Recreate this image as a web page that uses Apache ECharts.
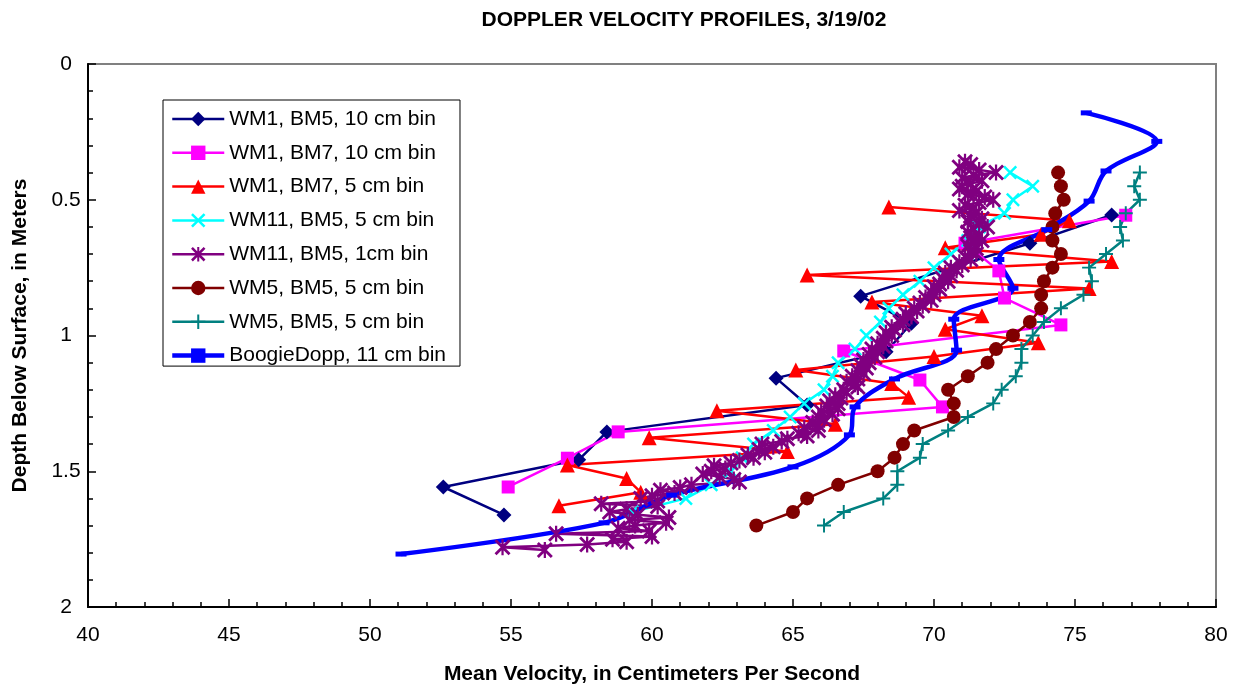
<!DOCTYPE html>
<html>
<head>
<meta charset="utf-8">
<title>Doppler velocity profiles</title>
<script src="https://cdn.jsdelivr.net/npm/echarts@6.0.0/dist/echarts.min.js"></script>
<style>
  html, body { margin: 0; padding: 0; background: #fff; }
  #chart { width: 1238px; height: 686px; }
</style>
</head>
<body>
<div id="chart"></div>
<script>
// depth (m) / mean velocity (cm/s), one pair of arrays per profile
var wm1Bm5Depth = [0.556, 0.66, 0.855, 0.955, 1.06, 1.157, 1.256, 1.355, 1.458, 1.558, 1.661];
var wm1Bm5Vel   = [76.3, 73.4, 67.4, 69.2, 68.3, 64.4, 65.5, 58.4, 57.4, 52.6, 54.75];

var wm1Bm7Depth = [0.557, 0.66, 0.762, 0.862, 0.961, 1.057, 1.164, 1.263, 1.355, 1.452, 1.558];
var wm1Bm7Vel   = [76.8, 71.1, 72.3, 72.5, 74.5, 66.8, 69.5, 70.3, 58.8, 57.0, 54.9];

var wm1Bm7FineDepth = [0.527, 0.577, 0.627, 0.677, 0.727, 0.777, 0.827, 0.877, 0.927, 0.977, 1.027, 1.077,
  1.127, 1.177, 1.227, 1.277, 1.327, 1.377, 1.427, 1.477, 1.527, 1.577, 1.627];
var wm1Bm7FineVel = [68.4, 74.8, 73.8, 70.4, 76.3, 65.5, 75.5, 67.8, 71.7, 70.4, 73.7, 70.0,
  65.1, 68.5, 69.1, 62.3, 66.5, 59.9, 64.8, 57.0, 59.1, 59.6, 56.7];

var wm11Bm5Depth = [0.40, 0.45, 0.50, 0.55, 0.60, 0.65, 0.70, 0.75, 0.80, 0.85, 0.90, 0.95, 1.00,
  1.05, 1.10, 1.15, 1.20, 1.25, 1.30, 1.35, 1.40, 1.45, 1.50, 1.55, 1.60, 1.65];
var wm11Bm5Vel = [72.7, 73.5, 72.8, 72.5, 71.6, 71.2, 70.6, 70.0, 69.5, 68.9, 68.4, 68.1, 67.6,
  67.2, 66.6, 66.4, 66.1, 65.4, 64.9, 64.3, 63.6, 63.2, 62.8, 62.1, 61.2, 59.3];

// 1 cm bins, 0.36 m to 1.79 m
var wm11Bm5CmDepth = [];
for (var k = 36; k <= 179; k++) wm11Bm5CmDepth.push(k / 100);
var wm11Bm5CmVel = [
  71.1, 71.3, 70.9, 71.6, 72.2, 71.4, 71.0, 71.7, 71.3, 71.0,
  70.9, 71.5, 71.2, 71.8, 72.1, 71.6, 71.1, 71.4, 70.9, 71.5,
  71.3, 71.7, 71.2, 71.6, 71.9, 71.4, 71.2, 71.6, 71.3, 71.7,
  71.4, 71.2, 71.5, 71.3, 71.5, 71.1, 71.3, 70.9, 71.0, 70.6,
  70.8, 70.4, 70.6, 70.3, 70.5, 70.2, 70.0, 70.2, 69.9, 70.0,
  69.7, 69.9, 69.5, 69.6, 69.3, 69.4, 69.0, 69.2, 68.9, 68.8,
  68.9, 68.5, 68.6, 68.3, 68.5, 68.2, 68.3, 68.0, 68.2, 67.8,
  68.0, 67.7, 67.9, 67.5, 67.7, 67.4, 67.6, 67.3, 67.5, 67.1,
  67.3, 66.9, 67.2, 67.3, 66.8, 66.9, 66.5, 66.7, 66.3, 66.6,
  66.2, 66.6, 66.0, 66.4, 65.9, 66.1, 65.7, 65.9, 65.4, 65.9,
  65.2, 65.5, 64.8, 64.6, 63.9, 64.3, 63.8, 64.0, 63.4, 63.6,
  63.1, 62.8, 62.2, 62.6, 62.1, 61.8, 62.4, 62.9, 63.1, 61.4,
  61.0, 60.3, 60.8, 60.0, 59.6, 60.2, 58.2, 60.2, 59.1, 58.5,
  59.5, 60.6, 59.2, 60.5, 59.4, 58.8, 59.9, 56.6, 60.0, 58.6,
  59.1, 57.7, 54.7, 56.2
];

var wm5CircleDepth = [0.40, 0.45, 0.50, 0.55, 0.60, 0.65, 0.70, 0.75, 0.80, 0.85, 0.90, 0.95, 1.00, 1.05,
  1.10, 1.15, 1.20, 1.25, 1.30, 1.35, 1.40, 1.45, 1.50, 1.55, 1.60, 1.65, 1.70];
var wm5CircleVel = [74.4, 74.5, 74.6, 74.3, 74.2, 74.2, 74.5, 74.2, 73.9, 73.8, 73.8, 73.4, 72.8, 72.2,
  71.9, 71.2, 70.5, 70.7, 70.7, 69.3, 68.9, 68.6, 68.0, 66.6, 65.5, 65.0, 63.7];

var wm5PlusDepth = [0.40, 0.45, 0.50, 0.55, 0.60, 0.65, 0.70, 0.75, 0.80, 0.85, 0.90, 0.95, 1.00, 1.05,
  1.10, 1.15, 1.20, 1.25, 1.30, 1.35, 1.40, 1.45, 1.50, 1.55, 1.60, 1.65, 1.70];
var wm5PlusVel = [77.3, 77.1, 77.3, 76.8, 76.6, 76.7, 76.1, 75.5, 75.6, 75.3, 74.5, 73.9, 73.5, 73.1,
  73.1, 72.9, 72.4, 72.1, 71.2, 70.5, 69.6, 69.5, 68.7, 68.7, 68.2, 66.8, 66.1];

var boogieDepth = [0.18, 0.285, 0.394, 0.505, 0.61, 0.72, 0.826, 0.94, 1.054, 1.16, 1.263, 1.366,
  1.484, 1.588, 1.69, 1.805];
var boogieVel = [75.4, 77.9, 76.1, 75.5, 74.0, 72.3, 72.8, 70.7, 70.8, 68.6, 67.2, 67.0,
  65.0, 60.7, 58.3, 51.1];

var xTicks = { min: 40, max: 80, step: 5 };
var yTicks = { min: 0, max: 2, step: 0.5 };

var FONT = 'Liberation Sans, Arial, sans-serif';

// marker shapes not built into echarts (drawn as thin filled bars)
var SYM_X = 'path://M0,2.5 L2.5,0 L20,17.5 L17.5,20 Z M17.5,0 L20,2.5 L2.5,20 L0,17.5 Z';
var SYM_STAR = 'path://M8.6,0 L11.4,0 L11.4,20 L8.6,20 Z M0,2.5 L2.5,0 L20,17.5 L17.5,20 Z M17.5,0 L20,2.5 L2.5,20 L0,17.5 Z';
var SYM_PLUS = 'path://M8.6,0 L11.4,0 L11.4,20 L8.6,20 Z M0,8.6 L20,8.6 L20,11.4 L0,11.4 Z';
var SYM_DASH = 'path://M0,0 L22,0 L22,10 L0,10 Z';

function pairs(vel, depth) {
  return vel.map(function(v, i) { return [v, depth[i]] })
}

function profile(name, vel, depth, color, symbol, size, width) {
  return {
    name: name,
    type: 'line',
    data: pairs(vel, depth),
    symbol: symbol,
    symbolSize: size,
    showAllSymbol: true,
    lineStyle: { color: color, width: width || 2.5 },
    itemStyle: { color: color },
    emphasis: { disabled: true }
  }
}

var chart = echarts.init(document.getElementById('chart'), null, { renderer: 'canvas' });

var series = [
  profile('WM1, BM5, 10 cm bin', wm1Bm5Vel, wm1Bm5Depth, '#000080', 'diamond', 15),
  profile('WM1, BM7, 10 cm bin', wm1Bm7Vel, wm1Bm7Depth, '#FF00FF', 'rect', 13),
  profile('WM1, BM7, 5 cm bin', wm1Bm7FineVel, wm1Bm7FineDepth, '#FF0000', 'triangle', 15),
  profile('WM11, BM5, 5 cm bin', wm11Bm5Vel, wm11Bm5Depth, '#00FFFF', SYM_X, 14),
  profile('WM11, BM5, 1cm bin', wm11Bm5CmVel, wm11Bm5CmDepth, '#800080', SYM_STAR, 16),
  profile('WM5, BM5, 5 cm bin', wm5CircleVel, wm5CircleDepth, '#800000', 'circle', 14),
  profile('WM5, BM5, 5 cm bin ', wm5PlusVel, wm5PlusDepth, '#008080', SYM_PLUS, 14),
  profile('BoogieDopp, 11 cm bin', boogieVel, boogieDepth, '#0000FF', SYM_DASH, [11, 5], 4.5)
];
series[7].smooth = 0.35;

chart.setOption({
  animation: false,
  backgroundColor: '#ffffff',
  title: {
    text: 'DOPPLER VELOCITY PROFILES, 3/19/02',
    left: 679,
    top: 5,
    textAlign: 'center',
    textStyle: { fontFamily: FONT, fontSize: 21, fontWeight: 'bold', color: '#000' }
  },
  legend: {
    orient: 'vertical',
    left: 163,
    top: 100,
    padding: [8.5, 14, 0, 7],
    itemWidth: 52,
    itemHeight: 18,
    itemGap: 12.8,
    borderColor: '#000',
    borderWidth: 1,
    backgroundColor: '#fff',
    symbolKeepAspect: true,
    lineStyle: { width: 'inherit' },
    textStyle: { fontFamily: FONT, fontSize: 21, lineHeight: 21, color: '#000' },
    data: series.map(function(s) { return s.name }),
    formatter: function(n) { return n.trim() }
  },
  grid: {
    left: 88, right: 22, top: 64, bottom: 79,
    outerBoundsMode: 'none',
    show: true,
    borderColor: '#808080',
    borderWidth: 2,
    backgroundColor: '#fff'
  },
  xAxis: {
    type: 'value',
    min: xTicks.min, max: xTicks.max, interval: xTicks.step,
    name: 'Mean Velocity, in Centimeters Per Second',
    nameLocation: 'middle',
    nameGap: 57,
    nameTextStyle: { fontFamily: FONT, fontSize: 21, fontWeight: 'bold', color: '#000' },
    axisLine: { onZero: false, lineStyle: { color: '#000', width: 2 } },
    axisTick: { inside: true, length: 8, lineStyle: { color: '#000', width: 1.5 } },
    minorTick: { show: true, splitNumber: 5, length: 5, lineStyle: { color: '#000', width: 1.5 } },
    axisLabel: { margin: 18, fontFamily: FONT, fontSize: 21, color: '#000' },
    splitLine: { show: false }
  },
  yAxis: {
    type: 'value',
    inverse: true,
    min: yTicks.min, max: yTicks.max, interval: yTicks.step,
    name: 'Depth Below Surface, in Meters',
    nameLocation: 'middle',
    nameGap: 57,
    nameTextStyle: { fontFamily: FONT, fontSize: 21, fontWeight: 'bold', color: '#000' },
    axisLine: { onZero: false, lineStyle: { color: '#000', width: 2 } },
    axisTick: { inside: true, length: 8, lineStyle: { color: '#000', width: 1.5 } },
    minorTick: { show: true, splitNumber: 5, length: 5, lineStyle: { color: '#000', width: 1.5 } },
    axisLabel: { margin: 22, align: 'center', fontFamily: FONT, fontSize: 21, color: '#000' },
    splitLine: { show: false }
  },
  series: series
});
</script>
</body>
</html>
